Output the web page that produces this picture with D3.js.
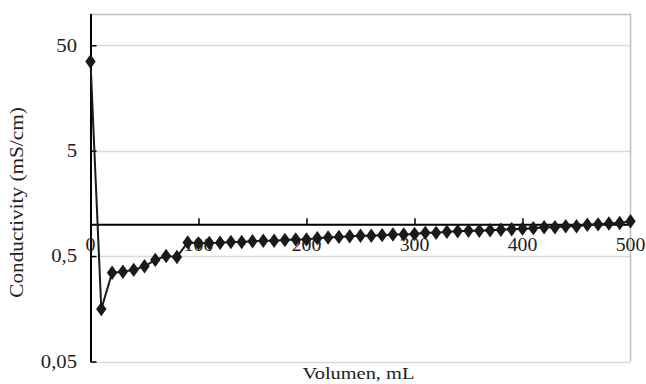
<!DOCTYPE html>
<html>
<head>
<meta charset="utf-8">
<script src="https://cdn.jsdelivr.net/npm/d3@7"></script>
<style>
  body { margin: 0; background: #fff; }
  svg text { font-family: "Liberation Serif", "DejaVu Serif", serif; fill: #222; }
</style>
</head>
<body>
<svg id="chart" width="646" height="384"></svg>
<script>
// ---------------- data ----------------
var volumes = [0, 10, 20, 30, 40, 50, 60, 70, 80, 90,
  100, 110, 120, 130, 140, 150, 160, 170, 180, 190,
  200, 210, 220, 230, 240, 250, 260, 270, 280, 290,
  300, 310, 320, 330, 340, 350, 360, 370, 380, 390,
  400, 410, 420, 430, 440, 450, 460, 470, 480, 490, 500];
var conductivity = [35, 0.157, 0.347, 0.355, 0.37, 0.40, 0.46, 0.50, 0.49, 0.674,
  0.66, 0.665, 0.67, 0.68, 0.68, 0.69, 0.70, 0.70, 0.71, 0.72,
  0.72, 0.74, 0.75, 0.76, 0.77, 0.78, 0.78, 0.79, 0.80, 0.80,
  0.81, 0.83, 0.83, 0.85, 0.86, 0.87, 0.87, 0.88, 0.89, 0.90,
  0.91, 0.92, 0.94, 0.94, 0.96, 0.96, 0.99, 1.00, 1.02, 1.03, 1.07];
var yTicks = [0.05, 0.5, 5, 50];
var yTickLabels = ["0,05", "0,5", "5", "50"];
var xTicks = [0, 100, 200, 300, 400, 500];

// ---------------- layout ----------------
var svg = d3.select('#chart');
var plotLeft = 90.5, plotRight = 630.5, plotTop = 13.5, plotBottom = 361.5;

var xScale = d3.scaleLinear().domain([0, 500]).range([plotLeft, plotRight]);
var yScale = d3.scaleLog().domain([0.05, 100]).range([plotBottom, plotTop]);

// gridlines
svg.append('g')
  .selectAll('line')
  .data(yTicks.concat([100]))
  .enter().append('line')
    .attr('x1', plotLeft).attr('x2', plotRight)
    .attr('y1', d => Math.round(yScale(d)) + 0.5)
    .attr('y2', d => Math.round(yScale(d)) + 0.5)
    .attr('stroke', d => d === 100 ? '#bfbfbf' : '#d9d9d9')
    .attr('stroke-width', 1.5);

// right border of plot area
svg.append('line')
  .attr('x1', plotRight).attr('x2', plotRight)
  .attr('y1', plotTop).attr('y2', plotBottom)
  .attr('stroke', '#bfbfbf').attr('stroke-width', 1.5);

// y axis
var yAxis = d3.axisRight(yScale).tickValues(yTicks).tickSize(6).tickSizeOuter(0).tickFormat('');
var gy = svg.append('g')
  .attr('transform', 'translate(' + plotLeft + ',0)')
  .call(yAxis);
gy.select('.domain').attr('stroke', '#000').attr('stroke-width', 2);
gy.selectAll('.tick line').attr('stroke', '#000').attr('stroke-width', 1.5);

svg.append('g')
  .selectAll('text')
  .data(yTicks)
  .enter().append('text')
    .attr('transform', d => 'translate(77,' + yScale(d) + ') scale(1.15,1)')
    .attr('dy', '0.35em')
    .attr('text-anchor', 'end')
    .style('font-size', '18px')
    .text((d, i) => yTickLabels[i]);

// x axis crossing at y = 1
var xAxis = d3.axisTop(xScale).tickValues(xTicks).tickSize(6).tickSizeOuter(0).tickFormat('');
var gx = svg.append('g')
  .attr('transform', 'translate(0,' + yScale(1) + ')')
  .call(xAxis);
gx.select('.domain').attr('stroke', '#000').attr('stroke-width', 2);
gx.selectAll('.tick line').attr('stroke', '#000').attr('stroke-width', 1.5);

svg.append('g')
  .selectAll('text')
  .data(xTicks)
  .enter().append('text')
    .attr('transform', d => 'translate(' + xScale(d) + ',' + (yScale(1) + 27) + ') scale(1.1,1)')
    .attr('text-anchor', 'middle')
    .style('font-size', '18px')
    .text(d => d);

// line + markers
var line = d3.line()
  .x((d, i) => xScale(volumes[i]))
  .y(d => yScale(d));

svg.append('path')
  .datum(conductivity)
  .attr('d', line)
  .attr('fill', 'none')
  .attr('stroke', '#1a1a1a')
  .attr('stroke-width', 2);

svg.append('g')
  .selectAll('path')
  .data(conductivity)
  .enter().append('path')
    .attr('d', d3.symbol().type(d3.symbolDiamond).size(60))
    .attr('transform', (d, i) => 'translate(' + xScale(volumes[i]) + ',' + yScale(d) + ') scale(1.25,1)')
    .attr('fill', '#1a1a1a');

// axis titles
svg.append('text')
  .text('Volumen, mL')
  .attr('transform', 'translate(' + ((plotLeft + plotRight) / 2 - 2) + ',379) scale(1.2,1)')
  .attr('text-anchor', 'middle')
  .style('font-size', '17px');

svg.append('text')
  .text('Conductivity (mS/cm)')
  .attr('transform', 'translate(23,' + ((plotTop + plotBottom) / 2 + 15) + ') rotate(-90) scale(1.18,1)')
  .attr('text-anchor', 'middle')
  .style('font-size', '18px');
</script>
</body>
</html>
